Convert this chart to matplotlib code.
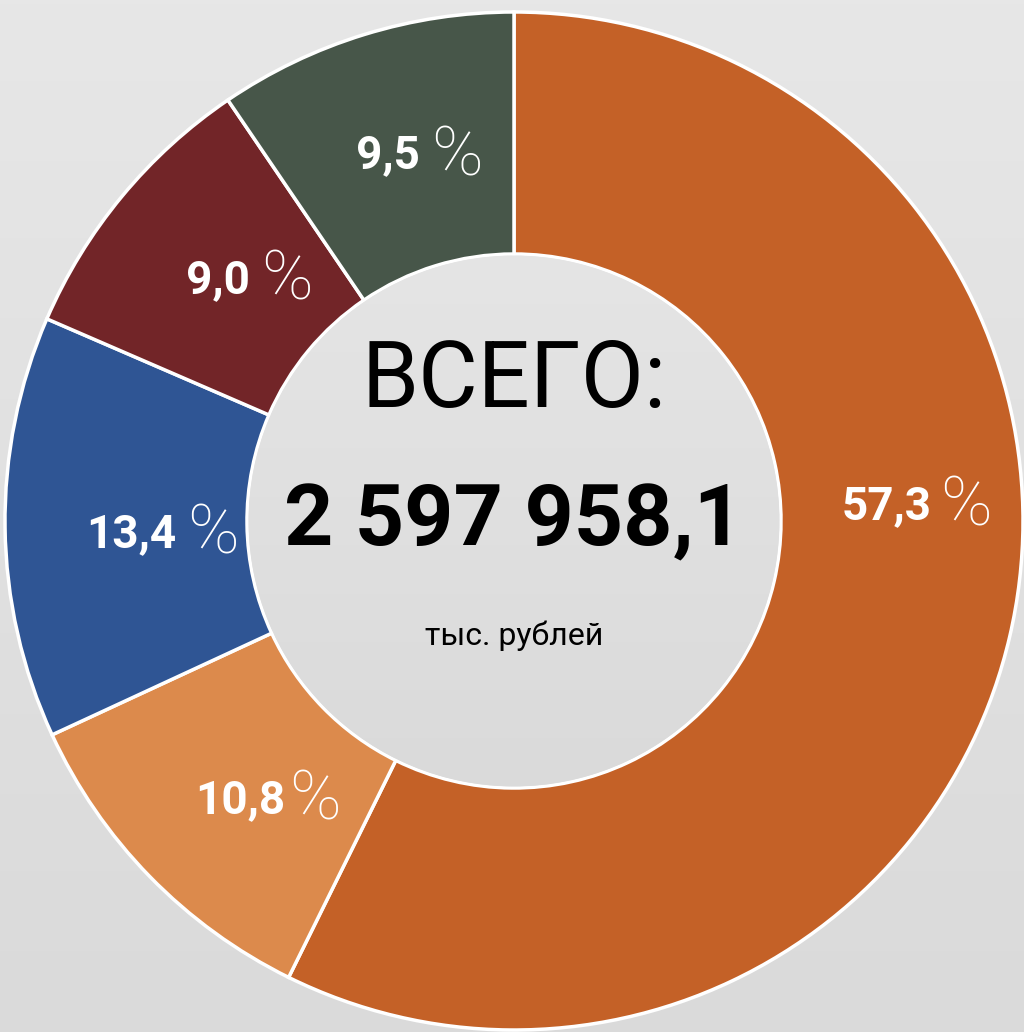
import numpy as np
import matplotlib
matplotlib.use("Agg")
import matplotlib.pyplot as plt
from matplotlib.patches import Circle

# доли, %
labels = ["57,3", "10,8", "13,4", "9,0", "9,5"]
shares = [57.3, 10.8, 13.4, 9.0, 9.5]
colors = ["#c46127", "#dc8a4c", "#2f5594", "#722528", "#475649"]
total_text = "2 597 958,1"
title_text = "ВСЕГО:"
unit_text = "тыс. рублей"

W, H = 1024, 1032
fig = plt.figure(figsize=(W / 100, H / 100), dpi=100)
ax = fig.add_axes([0, 0, 1, 1])

# фон с лёгким градиентом
grad = np.linspace(0, 1, 256).reshape(-1, 1)
ax.imshow(grad, cmap=matplotlib.colors.LinearSegmentedColormap.from_list(
    "bg", ["#dadada", "#e7e7e7"]), extent=(0, W, 0, H), origin="lower",
    aspect="auto", zorder=0)

cx, cy = 514, H - 521
R = 509
r_in = 267

wedges, _ = ax.pie(shares, colors=colors, startangle=90, counterclock=False,
                   center=(cx, cy), radius=R, frame=True,
                   wedgeprops=dict(width=R - r_in, edgecolor="white", linewidth=2.5))
for w in wedges:
    w.set_zorder(2)
ax.set_xlim(0, W)
ax.set_ylim(0, H)
ax.set_aspect("auto")
ax.axis("off")

# внутренний круг
circ = Circle((cx, cy), r_in - 1.5, facecolor="none", edgecolor="none")
ax.add_patch(circ)
im = ax.imshow(grad, cmap=matplotlib.colors.LinearSegmentedColormap.from_list(
    "inner", ["#dadada", "#e5e5e5"]),
    extent=(cx - r_in, cx + r_in, cy - r_in, cy + r_in), origin="lower",
    aspect="auto", zorder=3)
im.set_clip_path(circ)

font = ["Roboto", "DejaVu Sans"]
ax.text(cx, H - 381, title_text, ha="center", va="center", fontsize=66,
        family=font, fontweight="normal", color="black", zorder=4)
ax.text(cx, H - 522, total_text, ha="center", va="center", fontsize=62,
        family=font, fontweight="bold", color="black", zorder=4)
ax.text(cx, H - 636, unit_text, ha="center", va="center", fontsize=23,
        family=font, color="black", zorder=4)

# подписи долей: (правый край числа, базовая линия, зазор до %)
label_pos = [(932, 519, 8), (285, 813, 4), (176, 547, 11), (250, 293, 11), (420, 168, 11)]
for lab, (x, y, gap) in zip(labels, label_pos):
    ax.text(x, H - y, lab, ha="right", va="baseline", fontsize=33,
            family=font, fontweight="bold", color="white", zorder=4)
    ax.text(x + gap, H - y - 7, "%", ha="left", va="baseline", fontsize=50,
            family=font, fontweight="light", color="white", zorder=4)

fig.savefig("out.png", dpi=100)
